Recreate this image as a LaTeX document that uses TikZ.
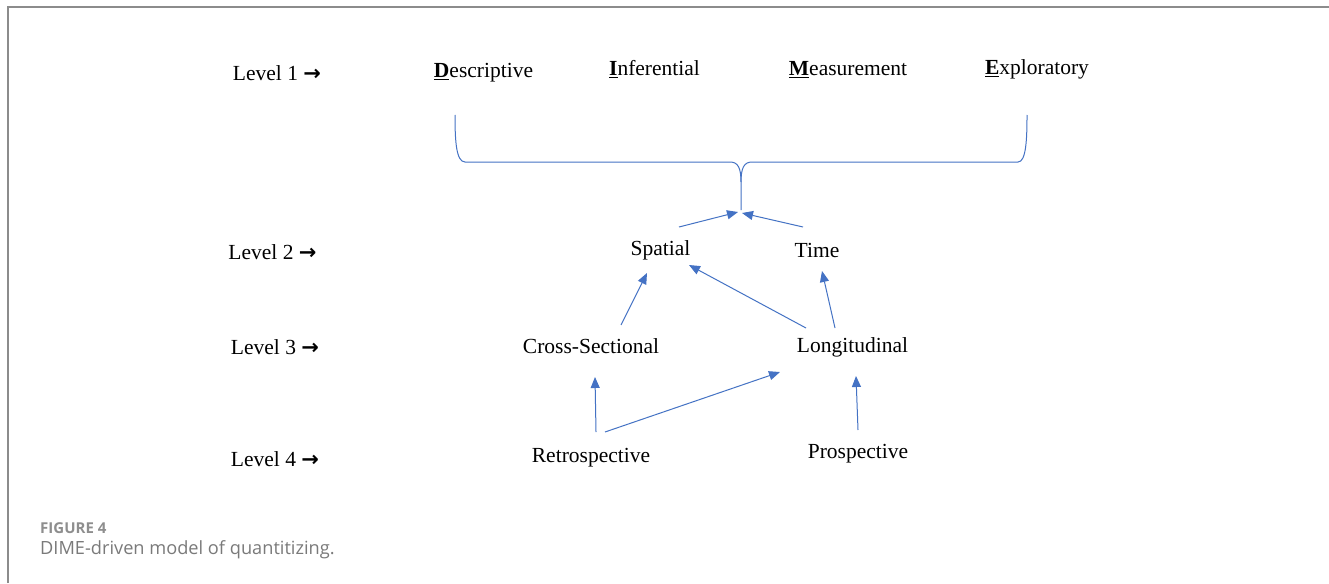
\documentclass[tikz,border=0pt]{standalone}
\usepackage{fontspec}
\setmainfont{Liberation Serif}
\newfontfamily\capfont{Open Sans}
\newfontfamily\arrfont{DejaVu Sans}
\usetikzlibrary{arrows.meta}
\definecolor{arrblue}{HTML}{4472C4}
\definecolor{framegray}{HTML}{8C8C8C}
\definecolor{capgray}{HTML}{7A7A7A}
\definecolor{capgrayb}{HTML}{8E8E8E}
\tikzset{
  lbl/.style={inner sep=0pt, anchor=base, font=\fontsize{21.5}{26}\selectfont},
  arr/.style={draw=arrblue, line width=1pt, -{Triangle[length=11pt,width=9pt]}},
  bracepath/.style={draw=arrblue, line width=1pt},
  captxt/.style={inner sep=0pt, anchor=base west},
}
\newcommand{\ini}[1]{\underline{\textbf{#1}}}
\newcommand{\lvarr}{{\arrfont\bfseries\fontsize{21}{26}\selectfont →}}
\begin{document}
\begin{tikzpicture}[x=1pt,y=-1pt]
\useasboundingbox (0,0) rectangle (1329,583);
\fill[white] (0,0) rectangle (1329,583);
% frame
\draw[framegray, line width=2pt] (7.5,583) -- (7.5,7.5) -- (1329,7.5);
% level labels
\node[lbl] (l1) at (277,81) {Level 1 \lvarr};
\node[lbl] (l2) at (272.5,259) {Level 2 \lvarr};
\node[lbl] (l3) at (275,354) {Level 3 \lvarr};
\node[lbl] (l4) at (275,466) {Level 4 \lvarr};
% level 1
\node[lbl] (d) at (483.5,78) {\ini{D}escriptive};
\node[lbl] (i) at (654.5,76) {\ini{I}nferential};
\node[lbl] (m) at (848,76) {\ini{M}easurement};
\node[lbl] (e) at (1037,75) {\ini{E}xploratory};
% others
\node[lbl] (sp) at (660.5,255) {Spatial};
\node[lbl] (tm) at (817,257) {Time};
\node[lbl] (cs) at (591,353) {Cross-Sectional};
\node[lbl] (lg) at (852.5,352) {Longitudinal};
\node[lbl] (rt) at (591,462) {Retrospective};
\node[lbl] (pr) at (858,458) {Prospective};
% brace
\coordinate (br) at (741,210);
\draw[bracepath] (455,115) .. controls (455,140) and (456,162) .. (465,162)
  -- (730,162) .. controls (738,162) and (741,168) .. (741,182) -- (br);
\draw[bracepath] (741,182) .. controls (741,168) and (744,162) .. (752,162)
  -- (1018,162) .. controls (1026,162) and (1027,140) .. (1027,115);
% arrows
\draw[arr] ([shift={(18.5,-28)}]sp.base) -- ([shift={(-3,2)}]br);
\draw[arr] ([shift={(-14,-30)}]tm.base) -- ([shift={(1,3)}]br);
\draw[arr] ([shift={(30,-28)}]cs.base) -- ([shift={(-13.5,18)}]sp.base);
\draw[arr] ([shift={(-46.5,-24)}]lg.base) -- ([shift={(28.5,10)}]sp.base);
\draw[arr] ([shift={(-17.5,-24)}]lg.base) -- ([shift={(5,14)}]tm.base);
\draw[arr] ([shift={(5,-30)}]rt.base) -- ([shift={(4,24)}]cs.base);
\draw[arr] ([shift={(14,-30)}]rt.base) -- ([shift={(-72.5,20)}]lg.base);
\draw[arr] ([shift={(0,-28)}]pr.base) -- ([shift={(3.5,24)}]lg.base);
% caption
\node[captxt, text=capgrayb, font=\capfont\bfseries\fontsize{15}{18}\selectfont] (fig) at (40,533) {FIGURE 4};
\node[captxt, text=capgray, font=\capfont\fontsize{18.2}{22}\selectfont] (capt) at (40,554) {DIME-driven model of quantitizing.};
\end{tikzpicture}
\end{document}
